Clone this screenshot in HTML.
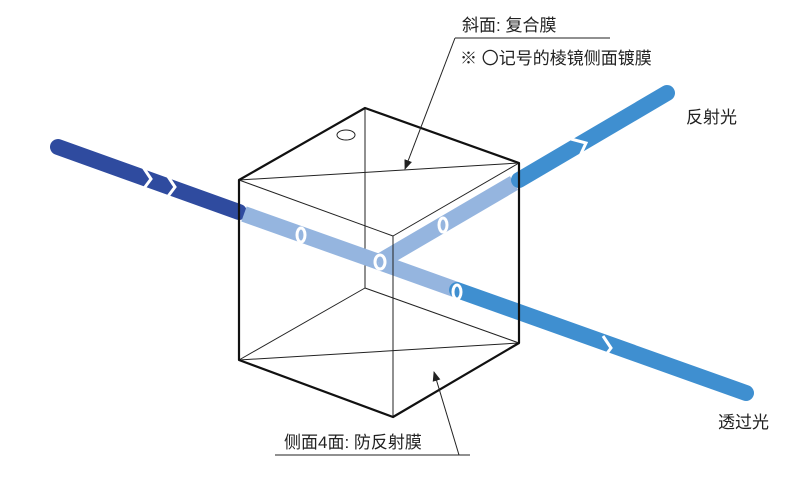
<!DOCTYPE html>
<html><head><meta charset="utf-8"><style>
body{margin:0;background:#fff}
text{font-family:"Liberation Sans","Noto Sans CJK SC",sans-serif;font-size:17px;fill:#222}
</style></head><body>
<svg width="800" height="473" viewBox="0 0 800 473">
<defs><marker id="a" markerWidth="10" markerHeight="10" refX="9" refY="5" orient="auto" markerUnits="userSpaceOnUse"><path d="M0,1 L10,5 L0,9 z" fill="#222"/></marker></defs>
<g stroke="#222" stroke-width="1" fill="none">
<line x1="365" y1="108" x2="365" y2="288"/>
<line x1="365" y1="288" x2="239" y2="360"/>
<line x1="365" y1="288" x2="519" y2="343"/>
<line x1="239" y1="180" x2="519" y2="163"/>
<line x1="239" y1="360" x2="519" y2="343"/>
</g>
<ellipse cx="346" cy="135" rx="9" ry="5" fill="#fff" stroke="#222"/>
<g stroke-linecap="round">
<line x1="58" y1="147" x2="239" y2="212" stroke="#2f4b9f" stroke-width="16"/>
<line x1="244" y1="214" x2="379" y2="262" stroke="#95b5df" stroke-width="16" stroke-linecap="butt"/>
<line x1="379" y1="262" x2="457" y2="290" stroke="#95b5df" stroke-width="16" stroke-linecap="butt"/>
<line x1="457" y1="290" x2="746" y2="393" stroke="#3f8fd0" stroke-width="16"/>
<line x1="379" y1="262" x2="514" y2="183" stroke="#95b5df" stroke-width="16" stroke-linecap="butt"/>
<line x1="519" y1="180" x2="667" y2="93" stroke="#3f8fd0" stroke-width="16"/>
</g>
<g fill="none" stroke="#fff" stroke-width="3">
<polyline points="143,167 151,179 142,191"/>
<polyline points="167,175 175,187 166,199"/>
<polyline points="571,139 586,143 579,158"/>
<polyline points="603,336 611,348 602,360"/>
</g>
<g fill="none" stroke="#fff" stroke-width="3">
<ellipse cx="301" cy="235" rx="4" ry="7"/>
<ellipse cx="380" cy="262" rx="5" ry="7"/>
<ellipse cx="443" cy="225" rx="4" ry="7"/>
<ellipse cx="457" cy="292" rx="4" ry="7"/>
</g>
<g stroke="#222" stroke-width="1" fill="none">
<line x1="239" y1="180" x2="393" y2="236"/>
<line x1="393" y1="236" x2="519" y2="163"/>
<line x1="393" y1="236" x2="393" y2="417"/>
</g>
<polygon points="365,108 519,163 519,343 393,417 239,360 239,180" fill="none" stroke="#111" stroke-width="2.2" stroke-linejoin="round"/>
<text x="462" y="31">斜面: 复合膜</text>
<line x1="455" y1="38" x2="610" y2="38" stroke="#222"/>
<text x="460" y="64">※ 〇记号的棱镜侧面镀膜</text>
<line x1="455" y1="38" x2="405" y2="169" stroke="#222" marker-end="url(#a)"/>
<text x="686" y="123">反射光</text>
<text x="718" y="428">透过光</text>
<text x="284" y="448">侧面4面: 防反射膜</text>
<line x1="275" y1="455" x2="470" y2="455" stroke="#222"/>
<line x1="459" y1="455" x2="434" y2="372" stroke="#222" marker-end="url(#a)"/>
</svg>
</body></html>
